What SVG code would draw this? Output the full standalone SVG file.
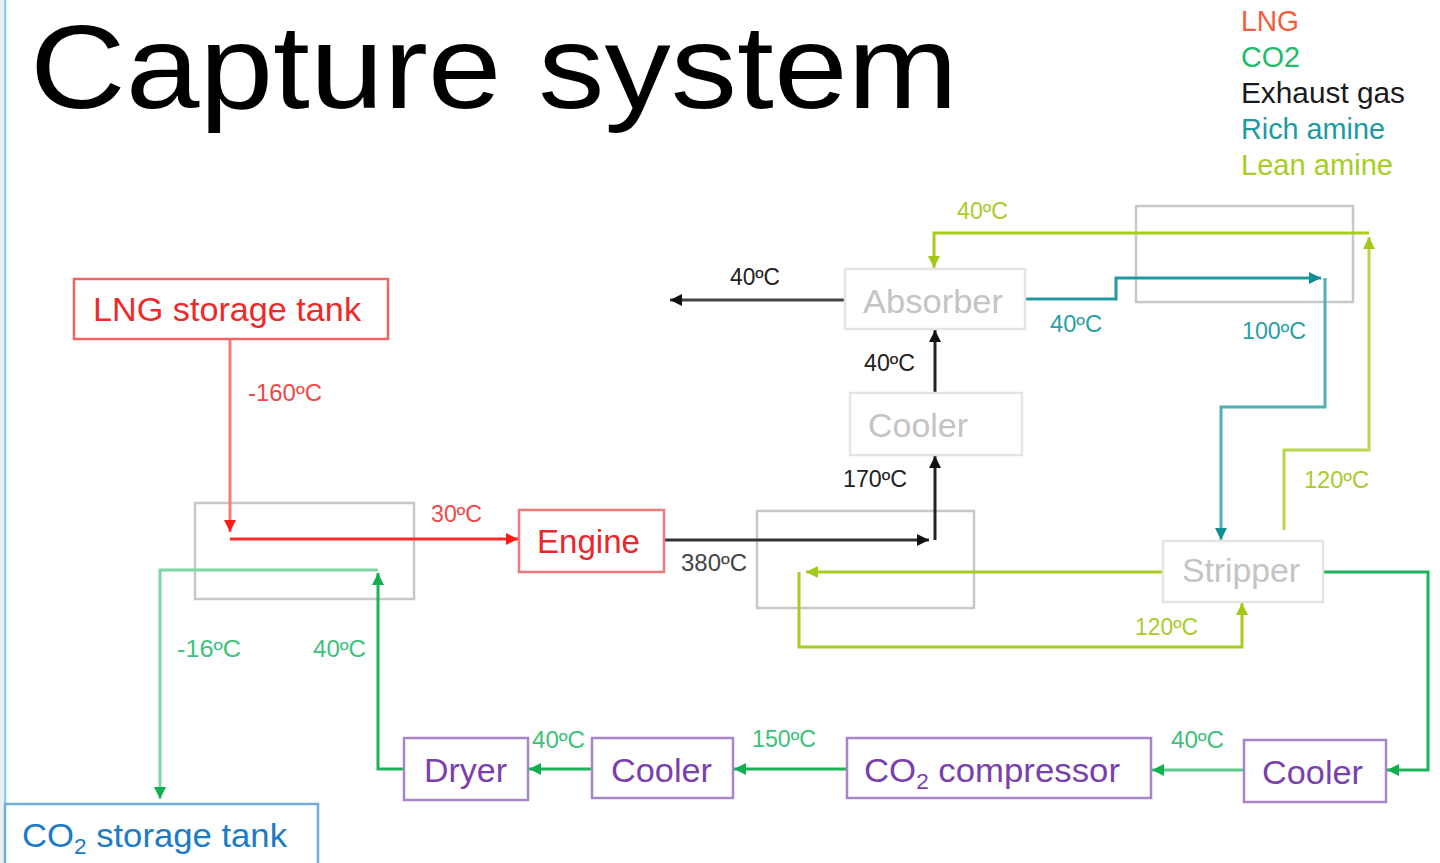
<svg xmlns="http://www.w3.org/2000/svg" width="1440" height="863" viewBox="0 0 1440 863">
<style>
  text { font-family: "Liberation Sans", Arial, sans-serif; }
  .lbl { font-family: "Liberation Sans Narrow", "Liberation Sans", Arial, sans-serif; font-size: 23px; }
  .nodeT { font-size: 34px; }
  .hx { fill: none; stroke: #c8c8c8; stroke-width: 2.5; }
  .lt { fill: #fff; stroke: #e4e4e4; stroke-width: 2.5; }
  .lttext { fill: #c4c4c4; }
  .pur { fill: #fff; stroke: #a884c8; stroke-width: 2.5; }
  .purt { fill: #7a3fae; }
  .ln { fill: none; stroke-width: 3; }
  .exh { stroke: #222; }
  .lean { stroke: #a8cc1e; }
  .rich { stroke: #1f9aa0; }
  .co2 { stroke: #1db35a; }
  .co2l { stroke: #7fd6a3; }
</style>
<defs>
  <marker id="aRed" viewBox="0 0 10 10" refX="10" refY="5" markerWidth="12" markerHeight="12" markerUnits="userSpaceOnUse" orient="auto"><path d="M0,0 L10,5 L0,10 z" fill="#ff1a1a"/></marker>
  <marker id="aBlk" viewBox="0 0 10 10" refX="10" refY="5" markerWidth="12" markerHeight="12" markerUnits="userSpaceOnUse" orient="auto"><path d="M0,0 L10,5 L0,10 z" fill="#111"/></marker>
  <marker id="aLean" viewBox="0 0 10 10" refX="10" refY="5" markerWidth="12" markerHeight="12" markerUnits="userSpaceOnUse" orient="auto"><path d="M0,0 L10,5 L0,10 z" fill="#a3c81a"/></marker>
  <marker id="aRich" viewBox="0 0 10 10" refX="10" refY="5" markerWidth="12" markerHeight="12" markerUnits="userSpaceOnUse" orient="auto"><path d="M0,0 L10,5 L0,10 z" fill="#0f8f95"/></marker>
  <marker id="aGrn" viewBox="0 0 10 10" refX="10" refY="5" markerWidth="12" markerHeight="12" markerUnits="userSpaceOnUse" orient="auto"><path d="M0,0 L10,5 L0,10 z" fill="#10b050"/></marker>
</defs>

<rect x="0" y="0" width="1440" height="863" fill="#ffffff"/>
<rect x="0" y="0" width="3" height="863" fill="#eeeeee"/>
<line x1="5" y1="0" x2="5" y2="863" stroke="#7fd1ef" stroke-width="2.5"/>

<text x="30" y="108" font-size="119" fill="#000" textLength="928" lengthAdjust="spacingAndGlyphs">Capture system</text>

<g id="legend" font-size="29">
  <text x="1241" y="31" fill="#f0603c" textLength="58" lengthAdjust="spacingAndGlyphs">LNG</text>
  <text x="1241" y="67" fill="#22bb6a" textLength="59" lengthAdjust="spacingAndGlyphs">CO2</text>
  <text x="1241" y="103" fill="#1a1a1a" textLength="164" lengthAdjust="spacingAndGlyphs">Exhaust gas</text>
  <text x="1241" y="139" fill="#1d9aa0" textLength="144" lengthAdjust="spacingAndGlyphs">Rich amine</text>
  <text x="1241" y="175" fill="#a8cc2a" textLength="152" lengthAdjust="spacingAndGlyphs">Lean amine</text>
</g>

<g id="hx1"><rect class="hx" x="195" y="503" width="219" height="96"/></g>
<g id="hx2"><rect class="hx" x="757" y="511" width="217" height="97"/></g>
<g id="hx3"><rect class="hx" x="1136" y="206" width="217" height="96"/></g>

<g id="connectors">
  <path class="ln" stroke="#f47c7c" d="M230,340 V532" marker-end="url(#aRed)"/>
  <path class="ln" stroke="#ff2a2a" d="M230,539 H518" marker-end="url(#aRed)"/>
  <path class="ln" stroke="#333" d="M665,540 H929" marker-end="url(#aBlk)"/>
  <path class="ln exh" d="M935,540 V456" marker-end="url(#aBlk)"/>
  <path class="ln exh" d="M935,393 V330" marker-end="url(#aBlk)"/>
  <path class="ln" stroke="#444" d="M845,300 H670" marker-end="url(#aBlk)"/>
  <path class="ln" stroke="#b8d64e" d="M1284,530 V450 H1369 V237" marker-end="url(#aLean)"/>
  <path class="ln lean" d="M1369,233 H934 V268" marker-end="url(#aLean)"/>
  <path class="ln lean" d="M1163,572 H806" marker-end="url(#aLean)"/>
  <path class="ln lean" d="M799,572 V647 H1242 V603" marker-end="url(#aLean)"/>
  <path class="ln rich" d="M1026,299 H1116 V278 H1321" marker-end="url(#aRich)"/>
  <path class="ln" stroke="#4fb0b4" d="M1325,278 V407 H1221 V540" marker-end="url(#aRich)"/>
  <path class="ln co2" d="M1324,572 H1428 V770 H1387" marker-end="url(#aGrn)"/>
  <path class="ln" stroke="#5cc98a" d="M1244,770 H1152" marker-end="url(#aGrn)"/>
  <path class="ln co2" d="M847,769 H734" marker-end="url(#aGrn)"/>
  <path class="ln co2" d="M592,769 H529" marker-end="url(#aGrn)"/>
  <path class="ln co2" d="M404,769 H378 V573" marker-end="url(#aGrn)"/>
  <path class="ln co2l" d="M378,570 H160 V799" marker-end="url(#aGrn)"/>
</g>

<g id="lng-tank">
  <rect x="74" y="279" width="314" height="60" fill="#fff" stroke="#f26464" stroke-width="2.5"/>
  <text class="nodeT" x="93" y="321" fill="#ee2a2a" textLength="268" lengthAdjust="spacingAndGlyphs">LNG storage tank</text>
</g>
<g id="engine">
  <rect x="519" y="510" width="145" height="62" fill="#fff" stroke="#f07878" stroke-width="2.5"/>
  <text class="nodeT" x="537" y="553" fill="#e8282c" textLength="103" lengthAdjust="spacingAndGlyphs">Engine</text>
</g>
<g id="absorber">
  <rect class="lt" x="845" y="269" width="180" height="60"/>
  <text class="nodeT lttext" x="863" y="313" textLength="140" lengthAdjust="spacingAndGlyphs">Absorber</text>
</g>
<g id="cooler-top">
  <rect class="lt" x="850" y="393" width="172" height="62"/>
  <text class="nodeT lttext" x="868" y="437" textLength="100" lengthAdjust="spacingAndGlyphs">Cooler</text>
</g>
<g id="stripper">
  <rect class="lt" x="1163" y="541" width="160" height="61"/>
  <text class="nodeT lttext" x="1182" y="582" textLength="118" lengthAdjust="spacingAndGlyphs">Stripper</text>
</g>
<g id="dryer">
  <rect class="pur" x="404" y="738" width="124" height="62"/>
  <text class="nodeT purt" x="424" y="782" textLength="83" lengthAdjust="spacingAndGlyphs">Dryer</text>
</g>
<g id="cooler-2">
  <rect class="pur" x="592" y="738" width="141" height="60"/>
  <text class="nodeT purt" x="611" y="782" textLength="101" lengthAdjust="spacingAndGlyphs">Cooler</text>
</g>
<g id="co2-compressor">
  <rect class="pur" x="847" y="738" width="304" height="60"/>
  <text class="nodeT purt" x="864" y="782" textLength="256" lengthAdjust="spacingAndGlyphs">CO<tspan font-size="22" dy="7">2</tspan><tspan dy="-7"> compressor</tspan></text>
</g>
<g id="cooler-1">
  <rect class="pur" x="1244" y="740" width="142" height="62"/>
  <text class="nodeT purt" x="1262" y="784" textLength="101" lengthAdjust="spacingAndGlyphs">Cooler</text>
</g>
<g id="co2-tank">
  <rect x="5" y="804" width="313" height="70" fill="#fff" stroke="#72aedc" stroke-width="2.5"/>
  <text class="nodeT" x="22" y="847" fill="#1b7bc6" textLength="265" lengthAdjust="spacingAndGlyphs">CO<tspan font-size="22" dy="7">2</tspan><tspan dy="-7"> storage tank</tspan></text>
</g>

<g id="labels">
  <text class="lbl" x="248" y="401" fill="#f04848" textLength="74" lengthAdjust="spacingAndGlyphs">-160ºC</text>
  <text class="lbl" x="431" y="522" fill="#f04848" textLength="51" lengthAdjust="spacingAndGlyphs">30ºC</text>
  <text class="lbl" x="681" y="571" fill="#444" textLength="66" lengthAdjust="spacingAndGlyphs">380ºC</text>
  <text class="lbl" x="843" y="487" fill="#222" textLength="64" lengthAdjust="spacingAndGlyphs">170ºC</text>
  <text class="lbl" x="864" y="371" fill="#222" textLength="51" lengthAdjust="spacingAndGlyphs">40ºC</text>
  <text class="lbl" x="730" y="285" fill="#222" textLength="50" lengthAdjust="spacingAndGlyphs">40ºC</text>
  <text class="lbl" x="957" y="219" fill="#a8cc2a" textLength="51" lengthAdjust="spacingAndGlyphs">40ºC</text>
  <text class="lbl" x="1050" y="332" fill="#2a9fa5" textLength="52" lengthAdjust="spacingAndGlyphs">40ºC</text>
  <text class="lbl" x="1242" y="339" fill="#2a9fa5" textLength="64" lengthAdjust="spacingAndGlyphs">100ºC</text>
  <text class="lbl" x="1304" y="488" fill="#a8cc2a" textLength="65" lengthAdjust="spacingAndGlyphs">120ºC</text>
  <text class="lbl" x="1135" y="635" fill="#a8cc2a" textLength="63" lengthAdjust="spacingAndGlyphs">120ºC</text>
  <text class="lbl" x="177" y="657" fill="#3cc27a" textLength="64" lengthAdjust="spacingAndGlyphs">-16ºC</text>
  <text class="lbl" x="313" y="657" fill="#3cc27a" textLength="53" lengthAdjust="spacingAndGlyphs">40ºC</text>
  <text class="lbl" x="532" y="748" fill="#3cc27a" textLength="53" lengthAdjust="spacingAndGlyphs">40ºC</text>
  <text class="lbl" x="752" y="747" fill="#3cc27a" textLength="64" lengthAdjust="spacingAndGlyphs">150ºC</text>
  <text class="lbl" x="1171" y="748" fill="#3cc27a" textLength="53" lengthAdjust="spacingAndGlyphs">40ºC</text>
</g>
</svg>
